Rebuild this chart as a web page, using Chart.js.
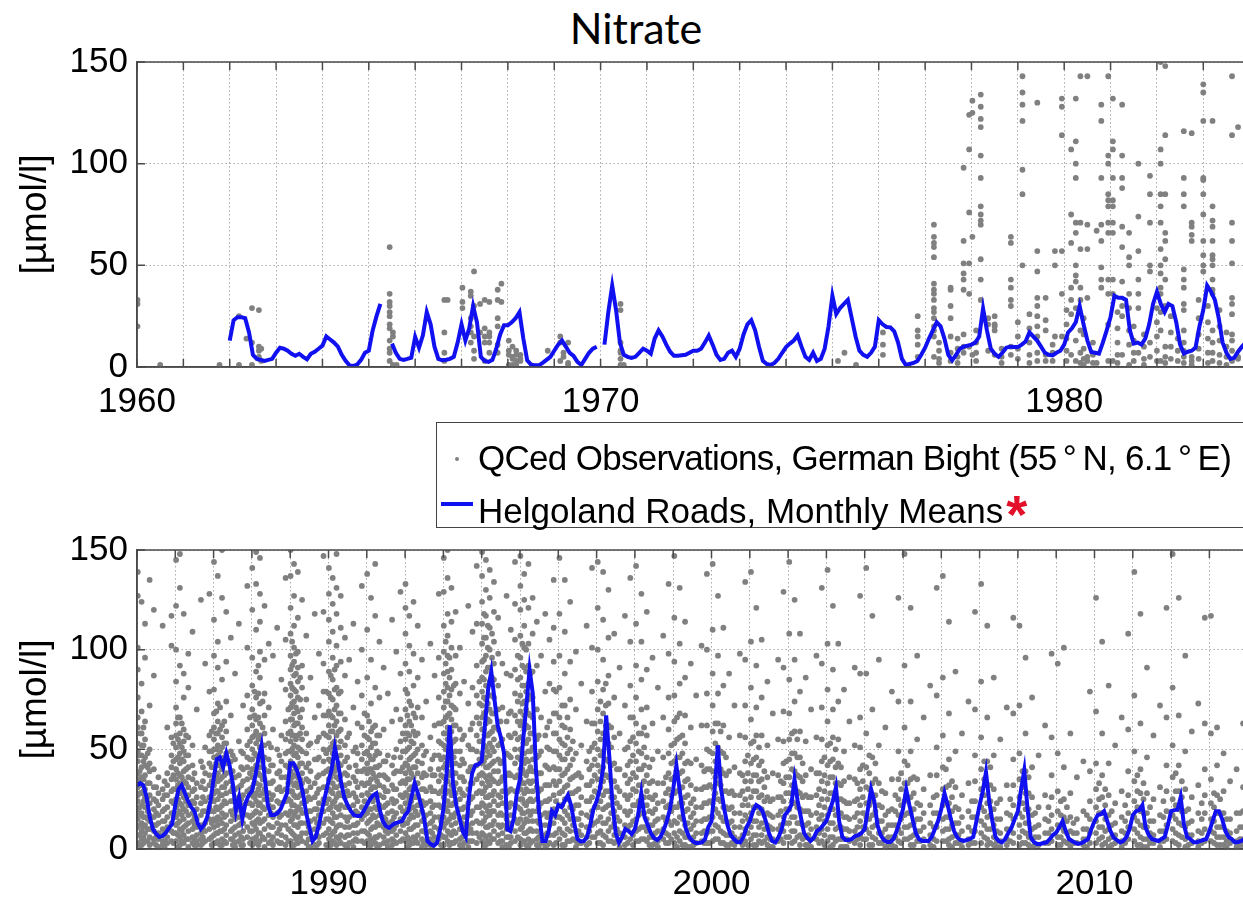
<!DOCTYPE html>
<html lang="en">
<head>
<meta charset="UTF-8" />
<title>Nitrate</title>
<script src="https://cdn.jsdelivr.net/npm/chart.js"></script>
<style>
  html, body { margin: 0; padding: 0; background: #fff; overflow: hidden; }
  body { width: 1243px; height: 903px; position: relative; font-family: 'Liberation Sans', Arial, sans-serif; }
  #title { position: absolute; left: 0; top: 2px; width: 1272px; text-align: center; font-family: Lato, 'Open Sans', sans-serif; font-size: 43px; color: #000; }
  canvas { position: absolute; left: 0; }
  #topPanel { top: 0; }
  #bottomPanel { top: 520px; }
  .legend { position: absolute; left: 436px; top: 422px; width: 900px; height: 104px; border: 1.5px solid #444; background: #fff; z-index: 2; }
  .legend .row { position: absolute; left: 41px; font-size: 35px; line-height: 46px; white-space: nowrap; color: #000; }
  .legend .first { letter-spacing: -0.7px; }
  .legend .dot { position: absolute; left: 18px; top: 34px; width: 4px; height: 4px; border-radius: 50%; background: #808080; }
  .legend .line { position: absolute; left: 4px; top: 79px; width: 32px; height: 3.5px; background: #1010f0; }
  .legend .star { color: #e4102a; font-weight: bold; font-size: 54px; position: relative; top: 10px; margin-left: 3px; }
</style>
</head>
<body>
  <div id="title">Nitrate</div>
  <canvas id="topPanel" width="1310" height="440"></canvas>
  <canvas id="bottomPanel" width="1300" height="383"></canvas>
  <div class="legend">
    <span class="dot"></span>
    <div class="row first" style="top:12px">QCed Observations, German Bight (55&#8201;°&#8201;N, 6.1&#8201;°&#8201;E)</div>
    <span class="line"></span>
    <div class="row" style="top:58px">Helgoland Roads, Monthly Means<span class="star">*</span></div>
  </div>

<script>
// year ticks (one grid line per year) and the years that carry a label
const topYears = [1960,1961,1962,1963,1964,1965,1966,1967,1968,1969,1970,1971,1972,1973,1974,1975,1976,1977,1978,1979,1980,1981,1982,1983,1984,1985];
const bottomYears = [1985,1986,1987,1988,1989,1990,1991,1992,1993,1994,1995,1996,1997,1998,1999,2000,2001,2002,2003,2004,2005,2006,2007,2008,2009,2010,2011,2012,2013,2014,2015];
const labeledYears = [1960, 1970, 1980, 1990, 2000, 2010];

// Helgoland Roads monthly means, Jan..Dec per row (null = no data)
const topMeansStart = 1962;
const topMeans = [
  13, 23, 24.5, 24.5, 24, 17, 6, 4, 3.5, 3, 3.5, 4,          // 1962
  7, 9.5, 9, 8, 6.5, 5.5, 6.5, 5, 3.8, 6.5, 7.5, 9,          // 1963
  10.5, 15, 13.5, 12, 10, 6, 3, 0.8, 0.5, 1.2, 3.5, 7,       // 1964
  8, 18, 25, 31, null, null, 11.5, 7, 4, 3.5, 4, 4.6,        // 1965
  14.8, 9.5, 15.6, 27, 21, 10, 4, 3.3, 3.6, 4, 5, 12,        // 1966
  21, 13, 19, 30, 22, 5, 3, 2.5, 3.5, 9, 16, 20.5,           // 1967
  20.5, 22, 24, 27, 14, 3.3, 1.2, 0.8, 0.8, 2, 3.5, 5,       // 1968
  8, 11, 13, 10, 7, 5.5, 2.5, 1, 4, 7, 9, 10,                // 1969
  null, 11, 27, 40, 28, 12, 6, 5, 4.5, 5, 7, 9,              // 1970
  8, 6.5, 14, 18, 15, 11, 7.5, 5.5, 5.5, 5.8, 6, 7,          // 1971
  8, 8, 9, 12, 15.5, 11, 6, 3.5, 4, 7, 8, 5,                 // 1972
  9, 16, 21, 23, 18, 10, 3, 1.5, 1, 2, 4, 7,                 // 1973
  9.8, 11.5, 13, 15.5, 10, 5, 3.5, 7, 3, 4, 9, 20,           // 1974
  35, 26, 29, 31, 33, 24, 15, 8, 6, 5, 7, 10,                // 1975
  23, 21, 19.7, 19.5, 17.5, 12, 4, 1, 1.5, 2, 3, 6,          // 1976
  9.5, 14, 18, 22, 20, 14, 6, 3.3, 6, 9, 10, 10.5,           // 1977
  11, 12, 15, 28.7, 18, 9, 6.5, 5, 7, 9.5, 10, 9.8,          // 1978
  9.8, 11, 12.5, 17, 15, 13, 10, 7, 6, 5.7, 7, 8,            // 1979
  11, 17, 19, 22, 30, 21, 13, 7.4, 7, 6.6, 12, 18,           // 1980
  24.6, 35, 34, 34, 33, 18, 11.5, 12, 11, 14, 21, 31,        // 1981
  37, 31, 27, 31, 30, 22, 11, 6.6, 7.5, 8, 9.5, 20,          // 1982
  28, 40, 37, 33, 24, 12, 7, 4, 4.5, 7.5, 10, 12             // 1983
];

const bottomMeansStart = 1985;
const bottomMeans = [
  32, 33, 32, 26, 16, 10, 7.5, 6, 6.5, 8, 10.5, 12.5,        // 1985
  22, 30, 32, 28, 24, 21, 19, 13, 10, 12, 16, 24,            // 1986
  35, 45, 46, 41, 48, 42, 33, 19, 26, 15, 23, 27,            // 1987
  29, 36, 45, 52, 36, 22, 17, 17, 18, 20, 24, 28,            // 1988
  43, 43, 40, 35, 28, 18, 11, 4, 6, 12, 20, 27,              // 1989
  34, 40, 51, 43, 33, 25.5, 22, 19, 17, 16.5, 16.5, 19,      // 1990
  22, 25, 27, 28, 20, 14, 11.5, 10.5, 12, 13, 13.5, 14,      // 1991
  17, 19, 26, 33, 28, 22, 15, 4, 2.5, 1.6, 3, 10,            // 1992
  20, 38, 62, 33, 22, 16, 9, 6, 26, 38, 42, 42.5,            // 1993
  44, 62, 80, 89, 75, 62, 56, 48, 10, 9, 15, 28,             // 1994
  35, 55, 72, 90, 78, 40, 18, 4, 4, 9, 19, 17,               // 1995
  22, 21, 24, 27, 22, 13, 5, 3.8, 4, 6, 12, 20,              // 1996
  24, 30, 40, 67, 46, 22, 8, 3.3, 6, 10, 9, 7.5,             // 1997
  10, 17, 28, 16, 12, 8, 5.5, 4.5, 6, 9.5, 14, 20,           // 1998
  30, 42, 30, 18, 10, 6, 4, 3, 3, 3.3, 5, 11,                // 1999
  14, 30, 52, 30, 20, 12, 7, 5, 3.5, 3.3, 6, 11,             // 2000
  14, 19, 22, 21, 19, 14, 8, 4, 3.3, 6, 10, 17,              // 2001
  19, 22, 35, 24, 16, 8, 5.5, 4, 5.5, 9, 10, 12,             // 2002
  14, 19, 24, 31, 14, 6, 4.5, 4.5, 5, 6.5, 7, 8,             // 2003
  10, 20, 30, 24, 12, 7, 4.5, 3.5, 3.5, 5, 9, 14,            // 2004
  20, 30, 22, 15, 8, 5, 4, 4, 4, 6, 10, 14,                  // 2005
  20, 28, 22, 15, 9, 5.8, 4.5, 4, 4.5, 5, 6, 14,             // 2006
  22, 29, 38.6, 24, 14, 6, 4, 3.3, 5, 8, 10.7, 15,           // 2007
  19, 30, 39.5, 20.6, 6, 3.5, 2.5, 2.5, 3, 3.3, 5, 7,        // 2008
  8.2, 11, 14, 9, 5, 4, 3, 2.5, 3, 4, 5, 10,                 // 2009
  14, 17, 17.5, 19, 14, 9, 5.8, 4.5, 3.3, 4, 6, 10,          // 2010
  17, 19, 19.5, 22, 10.7, 7, 5, 4.5, 4, 5, 6, 12,            // 2011
  19, 19.5, 19.7, 26, 12.3, 6, 5, 3.5, 3.3, 4, 4.5, 5,       // 2012
  9, 14, 19, 19, 15, 9, 6, 5, 3.3, 3.5, 4, 5                 // 2013
];

// German Bight observations: [sampling date, [values µmol/l]]
const obs1960s = [
  [1960.01,[33,31,20]], [1960.5,[1]], [1961.78,[1]],
  [1962.2,[25,1]], [1962.36,[14]], [1962.48,[29,12,1]], [1962.63,[28,10,8,5,4]], [1962.68,[9,3]],
  [1965.45,[59,36,32,30,27,25,21,19,13,9,7,3]], [1965.52,[17,15,1]], [1965.6,[1]],
  [1966.63,[33,17,7,3]], [1966.7,[33]],
  [1967.02,[39,32,29]], [1967.2,[37,35,24,20,17,12]], [1967.27,[47,30,15,8,4]],
  [1967.4,[31,17]], [1967.5,[33,19,15,12,3]], [1967.6,[32,17,15,12,7]],
  [1967.78,[38,33,24,20,11,7]], [1967.86,[41,32]],
  [1968.02,[13,8,6,1]], [1968.1,[10,5,4,1]], [1968.18,[8,6,3,1]], [1968.27,[6,4,3]],
  [1968.86,[8]], [1969.13,[15,12,3]], [1969.2,[7,5]], [1969.3,[12,2,1]],
  [1970.43,[31,28,12,8,7,4,1]], [1970.5,[1]]
];
const obs1970s = [
  [1975.12,[3]], [1975.26,[7]], [1975.51,[1]],
  [1976.09,[17,11,6]], [1976.84,[25,18,15,11,5]],
  [1977.19,[70,64,61,59,54,41,38,36,33,29,27,24,20,18,15,5]],
  [1977.3,[12,8,4,2]],
  [1977.55,[39,38,30,24,15,7,3]],
  [1977.7,[14,9,5,2]],
  [1977.83,[98,62,51,46,43,38,16,10,7]],
  [1977.95,[124,107,76,51,36,10]],
  [1978.02,[131,125,64,6]],
  [1978.1,[18,12,7,3]],
  [1978.2,[134,128,122,118,104,93,79,75,72,70,53,43,33]],
  [1978.36,[24,21,8]], [1978.5,[25,21,20,18,6]], [1978.65,[9,5,2]],
  [1978.85,[64,61,43,39,33,30,10,6]],
  [1979.0,[22,15,9,4]],
  [1979.1,[143,135,129,121,97,85,50]],
  [1979.25,[26,19,12,6,2]],
  [1979.42,[130,57,47,34,30,25,20,15,7,3]],
  [1979.6,[34,23,18,6,3]],
  [1979.75,[11,7,3]]
];
const obs1980s = [
  [1979.8,[57,50,15]],
  [1979.95,[132,128,114,57,36,15]],
  [1980.05,[28,21,14,8,3]],
  [1980.15,[107,75,61,39,33,26,6]],
  [1980.25,[132,111,100,93,71,66,50,45,42,29,13,3]],
  [1980.35,[143,71,58,39,33,18,7,2]],
  [1980.42,[24,16,9,4,1]],
  [1980.5,[143,70,58,34,5,3]],
  [1980.62,[12,6,2]],
  [1980.7,[67,2]],
  [1980.8,[129,121,93,70,62,49,43,39]],
  [1980.95,[143,104,100,85,82,79,71,66,43,36,21,3]],
  [1981.05,[132,111,107,93,82,79,71,66,43,36,3]],
  [1981.15,[27,19,12,6,2]],
  [1981.25,[129,104,93,88,69,59,42,30,25,6]],
  [1981.4,[66,54,50,36,29,18,11,1]],
  [1981.5,[20,13,7,3]],
  [1981.6,[100,74,57,43,36,29,7]],
  [1981.72,[16,10,4,1]],
  [1981.85,[94,85,71,50,47,12,5]],
  [1982.0,[29,22,15,8,3]],
  [1982.08,[150,107,100,85,79,71,58,50,46,39,36,27,18,3]],
  [1982.18,[148,114,85,66,62,53,43,30,10,5,2]],
  [1982.3,[25,17,10,4]],
  [1982.45,[14,8,3]],
  [1982.58,[116,93,85,79,48,43,39,31,28,18,12,8,5,2]],
  [1982.75,[115,71,69,65,62,5,3,1]],
  [1982.9,[33,24,16,9,4]],
  [1983.0,[139,135,121,93,92,85,75,62,55,50,47]],
  [1983.1,[30,22,14,7,2]],
  [1983.2,[121,79,72,69,62,55,53,50,43,38,36,18,12,7,3]],
  [1983.35,[28,20,13,6,2]],
  [1983.5,[17,10,5,1]],
  [1983.62,[143,114,71,62,51,34,31,26,16,13,8,3]],
  [1983.75,[118,5,4]]
];
const obs1985to1994 = [
  [1985.02,[139,127,101,90,76,66,61,53,49,44,38,35,31,27,24,19,15,11,7,3]],
  [1985.12,[124,83,69,58,52,47,41,36,32,28,22,18,13,9,5,2]],
  [1985.21,[113,96,64,55,46,42,37,30,26,21,16,12,8,4]],
  [1985.33,[135,72,50,43,39,33,27,23,17,14,10,6,2]],
  [1985.44,[120,87,40,31,25,20,16,12,9,5,3]],
  [1985.56,[36,28,22,17,13,8,5,1]],
  [1985.67,[112,30,25,19,14,10,7,4,2]],
  [1985.79,[61,38,32,27,21,16,11,6,3]],
  [1985.9,[117,102,56,47,41,35,29,24,18,13,9,4]],
  [1986.02,[145,122,100,84,71,63,57,51,45,40,35,30,25,21,16,12,8,4]],
  [1986.12,[148,131,92,66,58,53,48,43,37,33,28,23,19,14,10,6,2]],
  [1986.22,[118,88,76,60,54,49,44,39,34,29,26,20,15,11,7,3]],
  [1986.34,[98,81,56,47,41,36,31,27,22,17,13,9,5,1]],
  [1986.45,[109,52,42,35,29,24,18,14,10,6,3]],
  [1986.56,[70,33,26,20,15,11,7,4,2]],
  [1986.67,[125,44,31,23,17,12,8,5,2]],
  [1986.78,[93,51,38,30,24,19,13,9,4]],
  [1986.89,[128,79,57,49,43,37,32,26,21,15,10,5]],
  [1987.01,[144,115,97,80,68,61,55,50,46,41,37,32,28,24,19,15,11,7,3]],
  [1987.11,[137,104,91,73,64,58,52,47,42,38,34,29,25,20,16,12,8,4]],
  [1987.22,[150,126,85,62,56,51,45,40,36,31,27,22,18,13,9,5,2]],
  [1987.33,[119,94,74,59,53,48,43,38,33,28,23,17,12,7,3]],
  [1987.45,[106,67,49,44,39,34,29,24,19,14,9,5]],
  [1987.56,[88,45,36,30,25,20,15,11,7,3,1]],
  [1987.66,[113,54,37,31,26,21,16,12,8,4]],
  [1987.77,[72,48,40,34,27,22,18,13,9,5,2]],
  [1987.88,[132,101,77,60,52,46,41,35,29,23,17,11,6]],
  [1988.01,[141,120,96,82,70,62,56,50,45,40,36,31,27,22,17,13,9,5,2]],
  [1988.11,[149,133,110,89,76,65,59,53,47,42,38,33,28,24,19,14,10,6,3]],
  [1988.21,[146,128,114,99,86,73,63,57,51,46,41,37,32,27,23,18,13,8,4]],
  [1988.33,[122,95,78,67,58,52,46,40,35,30,25,20,15,10,5,1]],
  [1988.44,[103,71,53,45,39,33,28,22,17,12,7,3]],
  [1988.55,[97,60,42,34,27,21,16,11,6,2]],
  [1988.66,[111,50,38,30,24,18,13,8,4]],
  [1988.77,[85,57,44,36,29,23,17,12,7,3]],
  [1988.88,[136,105,80,64,55,48,42,36,30,24,18,12,6,2]],
  [1989.01,[150,137,121,108,97,90,83,77,71,65,59,54,49,44,39,34,29,24,19,14,9,4]],
  [1989.1,[143,127,112,101,94,87,80,74,68,62,57,52,47,42,37,32,27,22,17,12,7,2]],
  [1989.2,[139,116,99,91,84,76,69,63,57,51,46,41,36,31,26,21,16,11,6,3]],
  [1989.31,[125,92,81,70,61,55,49,43,38,33,28,23,18,13,8,4]],
  [1989.42,[107,75,58,48,41,35,29,24,18,13,8,3]],
  [1989.53,[86,53,39,31,25,19,14,9,5,1]],
  [1989.64,[118,66,45,33,26,20,15,10,6,2]],
  [1989.75,[98,72,56,46,37,30,23,17,11,6,3]],
  [1989.87,[147,119,93,79,67,58,50,44,38,31,25,19,13,7]],
  [1990.01,[141,128,115,104,89,78,69,62,56,50,45,40,35,30,25,20,15,10,5,2]],
  [1990.11,[136,123,109,96,85,75,66,59,53,48,43,38,33,28,23,18,13,8,4]],
  [1990.21,[148,131,118,102,92,81,72,64,57,51,46,41,36,31,26,21,16,11,6,2]],
  [1990.32,[127,111,94,79,68,60,54,47,42,37,32,27,22,17,12,7,3]],
  [1990.43,[106,87,65,52,44,38,32,26,21,16,11,6,2]],
  [1990.54,[95,58,41,33,27,21,16,11,7,3]],
  [1990.65,[113,71,49,36,28,22,17,12,8,4,1]],
  [1990.76,[84,63,48,39,31,24,18,13,8,4]],
  [1990.87,[132,100,77,61,52,45,39,33,27,21,15,9,4]],
  [1991.01,[138,110,86,67,56,49,43,38,33,28,23,18,13,8,4]],
  [1991.11,[126,95,73,59,51,45,40,35,30,25,20,15,10,5,2]],
  [1991.22,[143,117,81,62,53,47,41,36,31,26,21,16,11,6,3]],
  [1991.33,[104,76,57,48,42,37,32,27,22,17,12,7,2]],
  [1991.44,[91,60,44,37,31,26,21,16,11,6,3]],
  [1991.55,[78,47,35,29,23,18,13,8,4,1]],
  [1991.66,[115,64,42,32,25,19,14,9,5,2]],
  [1991.77,[99,70,50,39,30,24,18,12,7,3]],
  [1991.88,[129,88,65,54,46,39,33,27,21,15,9,4]],
  [1992.01,[133,121,108,93,80,70,62,55,49,43,38,33,28,23,18,13,8,4]],
  [1992.11,[117,102,89,74,64,57,51,45,40,35,30,25,20,15,10,5,2]],
  [1992.22,[124,98,82,68,59,53,47,41,36,31,26,21,16,11,6,3]],
  [1992.33,[112,86,71,58,50,44,38,33,27,22,17,12,7,3]],
  [1992.44,[95,66,52,43,36,30,24,19,14,9,5,1]],
  [1992.55,[74,49,37,29,23,17,12,8,4,2]],
  [1992.66,[103,56,40,31,24,18,13,9,5,2]],
  [1992.77,[87,62,47,37,29,22,16,11,6,3]],
  [1992.88,[128,96,76,63,54,47,40,34,28,22,16,10,5]],
  [1993.01,[146,129,112,99,88,79,71,64,58,52,46,41,36,31,26,21,16,11,6,2]],
  [1993.11,[150,136,118,107,97,89,81,74,67,61,55,50,44,39,34,29,24,19,14,9,4]],
  [1993.21,[131,114,101,90,80,72,65,59,53,48,42,37,32,27,22,17,12,7,3]],
  [1993.32,[119,97,83,70,62,55,49,43,38,33,28,23,18,13,8,4]],
  [1993.43,[101,78,60,49,42,36,30,25,20,15,10,5,2]],
  [1993.54,[84,57,43,34,27,21,16,11,7,3]],
  [1993.65,[122,73,52,39,30,23,17,12,8,4,1]],
  [1993.76,[109,81,63,50,41,33,26,19,13,8,4]],
  [1993.87,[142,113,92,77,66,57,49,42,35,28,21,14,8,3]],
  [1994.01,[149,137,124,113,103,94,86,79,72,66,60,54,48,43,38,33,28,23,18,13,8,4]],
  [1994.11,[145,130,117,106,97,89,82,75,69,63,57,51,46,41,36,31,26,21,16,11,6,2]],
  [1994.21,[140,126,111,100,91,84,77,70,64,58,53,47,42,37,32,27,22,17,12,7,3]],
  [1994.32,[134,119,104,93,85,76,68,61,55,49,44,39,34,29,24,19,14,9,5]],
  [1994.43,[116,98,82,70,60,52,45,39,33,27,22,17,12,7,3]],
  [1994.54,[93,71,55,44,36,29,23,17,12,8,4,1]],
  [1994.65,[127,88,64,48,37,28,21,15,10,6,2]],
  [1994.76,[110,87,69,56,46,37,30,23,17,11,6,3]],
  [1994.87,[144,123,105,90,78,67,58,50,43,36,29,22,15,9,4]]
];
const obs1995to2004 = [
  [1995.01,[147,132,120,107,96,86,77,69,62,56,50,45,40,35,30,25,20,15,10,5,2]],
  [1995.11,[138,125,112,101,91,82,74,67,60,54,48,43,38,33,28,23,18,13,8,4]],
  [1995.22,[143,121,103,92,83,75,68,61,55,49,44,39,34,29,24,19,14,9,5,1]],
  [1995.33,[126,108,89,76,66,58,51,45,39,34,29,24,19,14,9,4]],
  [1995.44,[114,92,70,55,46,38,31,25,19,14,9,5,2]],
  [1995.55,[97,66,49,38,30,23,17,12,7,3]],
  [1995.66,[118,79,57,42,32,24,18,12,7,3,1]],
  [1995.77,[105,83,64,50,40,32,25,18,12,7,3]],
  [1995.88,[135,111,94,80,68,58,49,41,34,27,20,13,7,2]],
  [1996.03,[146,118,97,81,66,55,47,40,34,28,22,16,10,5]],
  [1996.17,[135,109,88,72,61,52,45,38,31,25,19,13,7,2]],
  [1996.31,[124,94,75,60,50,42,35,28,21,15,9,4]],
  [1996.46,[99,70,48,37,29,22,15,9,4,1]],
  [1996.6,[83,52,36,26,18,12,7,3]],
  [1996.74,[112,64,44,32,24,17,11,6,2]],
  [1996.88,[141,101,79,63,51,42,34,26,19,12,6]],
  [1997.03,[144,121,100,84,70,59,50,42,35,28,21,14,8,3]],
  [1997.17,[139,115,95,80,68,58,49,41,34,27,20,13,7,2]],
  [1997.31,[130,106,87,73,62,53,44,36,29,22,15,9,4]],
  [1997.46,[108,76,56,43,34,26,19,13,7,3]],
  [1997.6,[91,58,40,29,21,14,8,4,1]],
  [1997.74,[117,72,50,37,27,19,12,6,2]],
  [1997.88,[136,104,82,66,54,44,35,27,19,12,5]],
  [1998.03,[142,113,92,76,63,53,44,36,29,22,15,9,4]],
  [1998.17,[128,104,85,70,58,48,40,32,25,18,11,5]],
  [1998.31,[119,90,71,57,46,37,29,22,15,9,4]],
  [1998.46,[96,63,45,34,25,18,12,6,2]],
  [1998.6,[81,49,33,23,15,9,4,1]],
  [1998.74,[107,66,46,33,24,16,10,5]],
  [1998.88,[133,98,76,60,48,38,30,22,14,7,3]],
  [1999.03,[147,116,94,77,64,53,44,36,28,21,14,8,3]],
  [1999.17,[131,103,83,68,56,46,38,30,23,16,9,4]],
  [1999.31,[114,86,67,53,43,34,26,19,12,6,2]],
  [1999.46,[93,61,43,32,23,16,10,5,1]],
  [1999.6,[77,45,30,21,14,8,3]],
  [1999.74,[102,62,42,30,21,14,8,4]],
  [1999.88,[138,100,78,62,50,40,31,23,15,8,3]],
  [2000.03,[143,110,88,72,59,48,39,31,23,16,9,4]],
  [2000.17,[127,97,78,63,51,41,33,25,18,11,5]],
  [2000.31,[111,82,62,48,38,29,21,14,8,3]],
  [2000.46,[88,56,39,28,20,13,7,2]],
  [2000.6,[72,41,27,18,11,6,2]],
  [2000.74,[98,57,38,27,18,11,5]],
  [2000.88,[134,95,72,56,44,34,25,17,10,4]],
  [2001.03,[139,104,81,65,53,43,34,26,18,11,5]],
  [2001.17,[121,92,71,57,46,37,29,21,14,7,2]],
  [2001.31,[105,76,57,44,35,27,20,13,7,3]],
  [2001.46,[84,52,36,26,18,12,6,2]],
  [2001.6,[68,38,25,16,10,5,1]],
  [2001.74,[95,55,37,26,17,10,4]],
  [2001.88,[129,91,69,54,43,33,24,16,9,3]],
  [2002.03,[144,108,85,68,55,45,36,28,20,13,6]],
  [2002.17,[125,95,74,59,48,39,31,23,16,9,4]],
  [2002.31,[108,79,59,46,36,28,20,13,7,2]],
  [2002.46,[86,54,37,27,19,12,6,2]],
  [2002.6,[70,40,26,17,10,5,1]],
  [2002.74,[97,56,38,27,18,11,5]],
  [2002.88,[131,93,71,55,44,34,25,17,10,4]],
  [2003.03,[140,103,80,64,52,42,33,25,17,10,4]],
  [2003.17,[122,90,70,56,45,36,28,20,13,6,2]],
  [2003.31,[103,74,55,43,33,25,18,11,5]],
  [2003.46,[80,49,34,24,16,10,5,1]],
  [2003.6,[64,36,23,15,9,4]],
  [2003.74,[91,52,35,24,16,9,3]],
  [2003.88,[127,88,66,51,40,30,22,14,7,2]],
  [2004.04,[141,88,58,41,31,23,16,10,5]],
  [2004.2,[117,70,46,33,24,17,11,6,2]],
  [2004.37,[95,52,33,22,14,8,3]],
  [2004.54,[61,28,17,10,5,1]],
  [2004.71,[79,35,20,12,6,2]],
  [2004.88,[126,74,49,35,25,17,10,4]]
];
const obs2005to2014 = [
  [2005.04,[148,92,61,44,33,24,17,11,5]],
  [2005.2,[121,74,49,35,26,18,12,6,2]],
  [2005.37,[97,55,35,23,15,9,4]],
  [2005.54,[66,30,18,11,5,1]],
  [2005.71,[82,37,22,13,7,2]],
  [2005.88,[131,77,51,37,27,18,11,4]],
  [2006.04,[137,86,57,41,30,22,15,9,4]],
  [2006.2,[114,68,45,32,23,16,10,5,2]],
  [2006.37,[89,49,31,21,13,7,3]],
  [2006.54,[58,27,16,9,4,1]],
  [2006.71,[74,33,19,11,5,2]],
  [2006.88,[119,70,47,34,24,16,9,3]],
  [2007.04,[133,84,56,40,30,21,14,8,3]],
  [2007.2,[112,66,44,32,23,16,10,5,2]],
  [2007.37,[86,47,30,20,12,6,2]],
  [2007.54,[55,25,15,8,4,1]],
  [2007.71,[71,32,18,10,5,2]],
  [2007.88,[116,68,45,32,22,15,8,3]],
  [2008.04,[112,72,48,35,26,18,12,6,2]],
  [2008.2,[96,58,39,28,20,13,8,3]],
  [2008.37,[76,41,26,17,10,5,1]],
  [2008.54,[47,21,12,6,2]],
  [2008.71,[62,27,15,8,3]],
  [2008.88,[98,56,37,26,17,10,4]],
  [2009.04,[93,48,29,19,12,6,2]],
  [2009.2,[101,41,25,16,9,4]],
  [2009.37,[58,28,16,9,4,1]],
  [2009.54,[36,15,8,3]],
  [2009.71,[44,19,10,5,2]],
  [2009.88,[79,39,24,15,8,3]],
  [2010.04,[126,69,43,30,21,14,8,3]],
  [2010.2,[104,58,37,26,18,11,6,2]],
  [2010.37,[82,43,27,17,10,5,1]],
  [2010.54,[52,23,13,7,3]],
  [2010.71,[66,29,16,9,4,1]],
  [2010.88,[108,60,39,27,18,11,5]],
  [2011.04,[139,77,49,34,24,16,10,4]],
  [2011.2,[118,63,40,28,19,12,6,2]],
  [2011.37,[91,46,28,18,11,5,1]],
  [2011.54,[57,25,14,7,3]],
  [2011.71,[72,31,17,9,4,1]],
  [2011.88,[121,66,42,29,19,12,5]],
  [2012.04,[148,81,52,36,25,17,10,4]],
  [2012.2,[126,67,42,29,20,13,7,2]],
  [2012.37,[97,49,30,19,11,5,1]],
  [2012.54,[59,26,14,7,3]],
  [2012.71,[73,32,18,9,4,1]],
  [2012.88,[116,63,40,27,18,10,4]],
  [2013.04,[117,58,35,23,15,9,4]],
  [2013.2,[61,42,27,18,11,6,2]],
  [2013.37,[48,29,18,11,6,2]],
  [2013.54,[34,15,8,3]],
  [2013.71,[40,18,9,4,1]],
  [2013.88,[63,31,19,11,5,2]]
];
// additional sampling days filling the crowded lower range
const obsExtra1985to1997 = [
  [1985.07,[58,47,39,34,28,21,17,12,7,2]], [1985.17,[61,52,44,35,29,24,16,11,6,3]], [1985.28,[48,41,33,26,19,15,10,4]],
  [1985.5,[31,24,18,12,6,2]], [1985.72,[34,27,20,14,9,4,1]], [1985.95,[53,44,37,30,23,16,8,3]],
  [1986.07,[66,55,46,38,32,25,18,13,7,1]], [1986.17,[63,51,45,36,30,22,17,9,4]], [1986.28,[57,47,40,33,24,19,12,5]],
  [1986.5,[38,30,23,16,12,5,2]], [1986.72,[41,34,26,19,11,6,3]], [1986.95,[59,49,41,34,26,19,13,6,2]],
  [1987.07,[69,58,50,43,36,29,21,14,8,3]], [1987.17,[71,60,49,42,35,27,21,15,9,2]], [1987.28,[64,53,46,37,31,24,16,10,4]],
  [1987.5,[47,39,31,24,17,10,5,2]], [1987.72,[49,41,32,25,19,13,6,2]], [1987.95,[66,54,45,38,30,23,16,9,3]],
  [1988.07,[79,67,57,48,40,33,26,18,12,5]], [1988.17,[92,78,66,55,46,38,30,22,15,8,2]], [1988.28,[74,61,52,44,35,28,21,14,6]],
  [1988.5,[51,42,33,25,18,11,4]], [1988.72,[47,39,31,23,16,10,3]], [1988.95,[70,58,49,41,33,25,17,10,4]],
  [1989.05,[104,92,81,73,65,57,50,43,36,29,22,15,8,2]], [1989.15,[98,88,79,71,63,55,48,40,33,26,19,12,5]], [1989.26,[86,75,66,58,50,43,35,27,20,13,6]],
  [1989.48,[52,43,34,26,19,11,5,1]], [1989.7,[54,45,36,28,20,13,7,2]], [1989.94,[79,67,57,48,39,31,23,15,8,2]],
  [1990.06,[87,76,67,59,51,44,36,29,21,14,7,2]], [1990.16,[90,80,70,62,54,47,39,31,24,16,9,3]], [1990.27,[78,68,59,51,43,35,28,20,12,5]],
  [1990.49,[56,46,37,29,21,14,7,1]], [1990.71,[51,42,34,26,19,12,5]], [1990.94,[68,57,48,40,32,24,17,9,3]],
  [1991.06,[64,55,47,40,33,27,20,14,7,2]], [1991.16,[61,53,45,38,31,24,17,11,4]], [1991.27,[57,49,41,34,27,20,13,6,1]],
  [1991.49,[44,36,29,22,15,9,3]], [1991.71,[46,38,30,23,16,10,4]], [1991.94,[58,49,41,34,26,19,12,5]],
  [1992.06,[78,67,58,50,42,35,27,20,13,6,1]], [1992.16,[72,62,54,46,38,31,24,17,10,3]], [1992.27,[66,57,48,41,33,26,19,12,5]],
  [1992.49,[47,38,30,22,15,9,3]], [1992.71,[45,37,29,21,14,8,2]], [1992.94,[63,53,45,37,29,21,14,7,2]],
  [1993.06,[104,93,83,74,66,58,50,43,35,28,21,13,6]], [1993.16,[96,86,77,68,60,52,44,37,29,22,15,8,2]], [1993.27,[82,71,62,54,46,38,31,23,16,9,3]],
  [1993.49,[55,45,36,28,20,13,6,1]], [1993.71,[60,50,41,33,25,17,10,4]], [1993.94,[84,73,63,54,45,37,29,21,13,6]],
  [1994.06,[118,106,95,85,76,68,60,52,44,37,29,22,14,7,2]], [1994.16,[112,101,91,82,73,65,57,49,41,34,26,19,11,4]], [1994.27,[108,96,86,77,68,59,51,43,35,27,19,12,5]],
  [1994.49,[64,53,43,34,26,18,11,4]], [1994.71,[68,57,47,38,29,21,13,6,1]], [1994.94,[97,85,74,64,55,46,37,29,21,13,6]],
  [1995.06,[103,92,82,73,64,56,48,40,33,25,18,11,4]], [1995.16,[100,89,79,70,62,53,45,37,30,22,15,8,2]], [1995.27,[88,77,67,58,49,41,33,25,17,10,3]],
  [1995.49,[57,47,38,29,21,13,6,1]], [1995.71,[61,51,41,32,24,16,8,2]], [1995.94,[79,68,58,49,40,32,24,16,8,3]],
  [1996.1,[72,62,53,45,37,29,22,15,8,2]], [1996.24,[66,56,48,40,32,25,17,10,4]], [1996.38,[54,45,36,28,20,12,5]],
  [1996.53,[38,30,22,15,9,3]], [1996.81,[49,40,32,24,16,9,3]], [1996.95,[63,53,45,37,29,21,13,6]],
  [1997.1,[74,64,55,47,39,31,24,16,9,3]], [1997.24,[83,72,62,53,45,37,29,21,13,6]], [1997.38,[61,51,42,34,26,18,11,4]],
  [1997.53,[40,31,23,16,10,4]], [1997.81,[51,42,33,25,17,10,3]], [1997.95,[66,56,47,38,30,22,14,7,2]]
];
const obsExtra1998to2013 = [
  [1998.1,[58,49,40,32,24,17,10,4]], [1998.24,[61,51,42,34,26,18,11,5]], [1998.95,[52,43,35,27,19,12,5]],
  [1998.38,[41,33,26,19,12,6,2]], [1998.53,[27,20,14,8,3]], [1998.81,[36,28,21,14,8,3]],
  [1999.1,[66,55,46,37,29,21,13,6,1]], [1999.24,[57,48,39,31,23,15,8,2]], [1999.95,[49,40,32,24,16,9,3]],
  [1999.38,[44,35,27,20,13,6,1]], [1999.53,[25,18,12,6,2]], [1999.81,[39,31,23,15,9,3]],
  [2000.1,[63,53,44,36,28,20,12,5]], [2000.24,[59,49,40,32,24,16,9,3]], [2000.95,[47,38,30,22,15,8,2]],
  [2000.38,[46,37,29,21,14,7,2]], [2000.53,[29,21,14,8,3]], [2000.81,[37,29,22,14,7,2]],
  [2001.1,[54,45,37,29,21,14,7,2]], [2001.24,[51,42,34,26,18,11,4]], [2001.95,[44,36,28,20,13,6]],
  [2001.38,[39,31,24,17,10,4]], [2001.53,[24,17,11,5,1]], [2001.81,[34,26,19,12,5]],
  [2002.1,[58,48,40,32,24,16,9,3]], [2002.24,[55,46,37,29,21,13,6]], [2002.95,[46,37,29,21,14,7,2]],
  [2002.38,[43,34,26,19,12,5]], [2002.53,[26,19,13,7,2]], [2002.81,[38,30,22,15,8,3]],
  [2003.1,[53,44,36,28,20,13,6,1]], [2003.24,[50,41,33,25,17,10,4]], [2003.95,[42,34,26,18,11,5]],
  [2003.38,[41,32,25,18,11,5,1]], [2003.53,[23,16,10,5,1]], [2003.81,[33,25,18,11,5]],
  [2004.12,[47,38,30,22,15,8,2]], [2004.28,[43,35,27,19,12,5]], [2004.95,[38,30,22,15,8,3]],
  [2004.45,[29,21,14,8,3]], [2004.62,[19,12,6,2]], [2004.8,[27,19,12,6,1]],
  [2005.12,[42,33,25,18,11,5]], [2005.28,[36,28,20,13,7,2]], [2005.45,[22,15,9,4]], [2005.8,[26,18,11,5,1]],
  [2006.12,[40,31,23,16,10,4]], [2006.28,[34,26,19,12,6,1]], [2006.45,[20,13,7,3]], [2006.8,[24,16,9,3]],
  [2007.12,[44,35,27,19,12,6]], [2007.28,[41,32,24,17,10,3]], [2007.45,[23,15,9,4,1]], [2007.8,[25,17,10,4]],
  [2008.12,[39,31,23,16,9,3]], [2008.28,[36,28,20,13,6,2]], [2008.45,[18,11,6,2]], [2008.8,[21,14,8,3]],
  [2009.12,[24,17,11,6,2]], [2009.28,[21,14,8,3]], [2009.45,[13,8,3]], [2009.8,[17,10,5,1]],
  [2010.12,[33,25,18,11,5]], [2010.28,[30,22,15,9,3]], [2010.45,[19,12,6,2]], [2010.8,[22,14,8,3]],
  [2011.12,[37,29,21,14,8,2]], [2011.28,[33,25,18,11,5,1]], [2011.45,[21,14,8,3]], [2011.8,[24,16,9,4]],
  [2012.12,[38,29,22,15,8,3]], [2012.28,[34,26,19,12,6]], [2012.45,[20,13,7,2]], [2012.8,[23,15,8,3]],
  [2013.12,[28,21,14,8,3]], [2013.28,[25,18,11,6,2]], [2013.45,[15,9,4,1]], [2013.8,[18,11,5,2]]
];

const tickFont = { family: "'Liberation Sans', Arial, sans-serif", size: 35 };

function cruisePoints(...groups) {
  const pts = [];
  groups.forEach(g => g.forEach(([date, values]) => values.forEach(v => pts.push({ x: date, y: v }))));
  return pts;
}

function monthlyPoints(startYear, means) {
  return means.map((v, i) => ({ x: startYear + i / 12, y: v }));
}

// box around the axes with inward tick marks, drawn over the data
const framePlugin = {
  id: 'frame',
  afterDatasetsDraw(chart) {
    const { ctx, chartArea: a, scales: { x, y } } = chart;
    ctx.save();
    ctx.strokeStyle = '#4a4a4a';
    ctx.lineWidth = 1.5;
    ctx.strokeRect(a.left, a.top, a.right - a.left, a.bottom - a.top);
    ctx.beginPath();
    x.ticks.forEach(t => {
      const px = x.getPixelForValue(t.value);
      ctx.moveTo(px, a.bottom); ctx.lineTo(px, a.bottom - 8);
      ctx.moveTo(px, a.top); ctx.lineTo(px, a.top + 8);
    });
    y.ticks.forEach(t => {
      const py = y.getPixelForValue(t.value);
      ctx.moveTo(a.left, py); ctx.lineTo(a.left + 8, py);
      ctx.moveTo(a.right, py); ctx.lineTo(a.right - 8, py);
    });
    ctx.stroke();
    ctx.restore();
  }
};

function drawPanel(id, years, obs, means, padTop, padRight, axisHeight) {
  new Chart(document.getElementById(id), {
    type: 'scatter',
    data: {
      datasets: [
        {
          type: 'line',
          data: means,
          borderColor: '#1010f0',
          borderWidth: 4,
          pointRadius: 0,
          spanGaps: false,
          tension: 0,
          order: 1
        },
        {
          type: 'scatter',
          data: obs,
          pointRadius: 2.9,
          pointBackgroundColor: '#808080',
          pointBorderWidth: 0,
          order: 2
        }
      ]
    },
    options: {
      responsive: false,
      animation: false,
      events: [],
      layout: { padding: { top: padTop, right: padRight, left: 0, bottom: 0 } },
      plugins: { legend: { display: false }, tooltip: { enabled: false } },
      scales: {
        x: {
          type: 'linear',
          min: years[0],
          max: years[years.length - 1],
          afterBuildTicks: s => { s.ticks = years.map(v => ({ value: v })); },
          afterFit: s => { s.height = axisHeight; },
          ticks: {
            autoSkip: false,
            maxRotation: 0,
            padding: 14,
            color: '#000',
            font: tickFont,
            callback: v => labeledYears.includes(Math.round(v)) ? String(Math.round(v)) : ''
          },
          grid: { color: '#a9a9a9', lineWidth: 1, drawTicks: false },
          border: { display: true, color: '#4a4a4a', width: 1.5, dash: [1.5, 2.5] }
        },
        y: {
          min: 0,
          max: 150,
          afterFit: s => { s.width = 137; },
          ticks: { stepSize: 50, padding: 9, color: '#000', font: tickFont },
          grid: { color: '#a9a9a9', lineWidth: 1, drawTicks: false },
          border: { display: true, color: '#4a4a4a', width: 1.5, dash: [1.5, 2.5] },
          title: {
            display: true,
            text: '[µmol/l]',
            color: '#000',
            font: { family: "'Liberation Sans', Arial, sans-serif", size: 37 },
            padding: { top: 14, bottom: 0 }
          }
        }
      }
    },
    plugins: [framePlugin]
  });
}

drawPanel('topPanel', topYears,
  cruisePoints(obs1960s, obs1970s, obs1980s),
  monthlyPoints(topMeansStart, topMeans),
  62, 10.5, 73);

drawPanel('bottomPanel', bottomYears,
  cruisePoints(obs1985to1994, obs1995to2004, obs2005to2014, obsExtra1985to1997, obsExtra1998to2013),
  monthlyPoints(bottomMeansStart, bottomMeans),
  25, 9.5, 54);
</script>
</body>
</html>
